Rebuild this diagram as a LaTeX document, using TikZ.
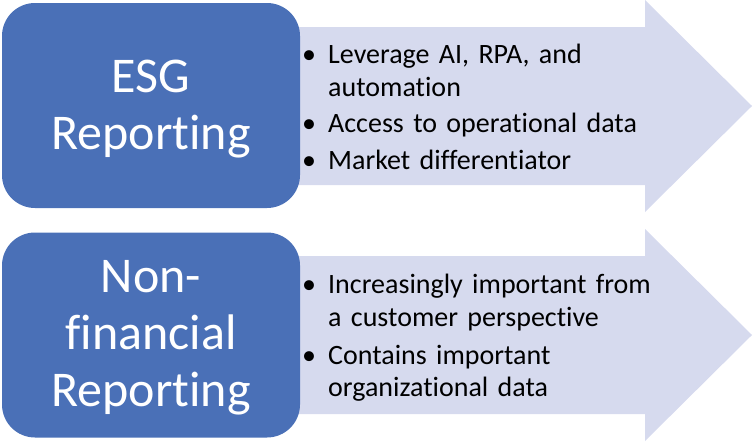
\documentclass[tikz,border=0pt]{standalone}
\usepackage{fontspec}
\setmainfont{Carlito}[Ligatures=NoCommon]
\usepackage{tikz}

\definecolor{topicblue}{HTML}{4A70B7}
\definecolor{arrowlav}{HTML}{D6DAEE}

\newcommand{\pointitem}[1]{\par\raggedright\hangindent=26pt\hangafter=1\noindent\strut\makebox[26pt][l]{\textbullet}#1\strut\par}

\tikzset{
  topicbox/.style={fill=topicblue, rounded corners=33pt, minimum width=298pt, minimum height=205pt,
    inner sep=0pt},
  topictext/.style={text=white, font=\fontsize{50}{57}\selectfont, align=center, inner sep=0pt},
  pointlist/.style={anchor=north west, text width=360pt, font=\fontsize{28}{32.5}\selectfont,
    inner sep=0pt},
  bigarrow/.style={fill=arrowlav}
}

\begin{document}
\begin{tikzpicture}[x=1pt,y=-1pt]
\useasboundingbox (0,0) rectangle (754,442);

% arrows behind the boxes
\fill[bigarrow] (250,27) -- (645,27) -- (645,0) -- (752,106) -- (645,212) -- (645,185) -- (250,185) -- cycle;
\fill[bigarrow] (250,256) -- (645,256) -- (645,229) -- (752,335) -- (645,441) -- (645,414) -- (250,414) -- cycle;

% topic boxes
\node[topicbox] (esg) at (151,105.5) {};
\node[topicbox] (nonfin) at (151,335) {};
\node[topictext] (esgtitle) at ([yshift=-4pt]esg.center) {ESG\\Reporting};
\node[topictext] (nonfintitle) at ([yshift=-3pt]nonfin.center) {Non-\\financial\\Reporting};

% bullet points
\node[pointlist] (esgpts) at (302,31.1) {%
  \pointitem{Leverage AI, RPA, and\newline automation}\vspace{4pt}
  \pointitem{Access to operational data}\vspace{4pt}
  \pointitem{Market differentiator}};
\node[pointlist] (nonfinpts) at (302,261.1) {%
  \pointitem{Increasingly important from\newline a customer perspective}\vspace{5.5pt}
  \pointitem{Contains important\newline organizational data}};
\end{tikzpicture}
\end{document}
